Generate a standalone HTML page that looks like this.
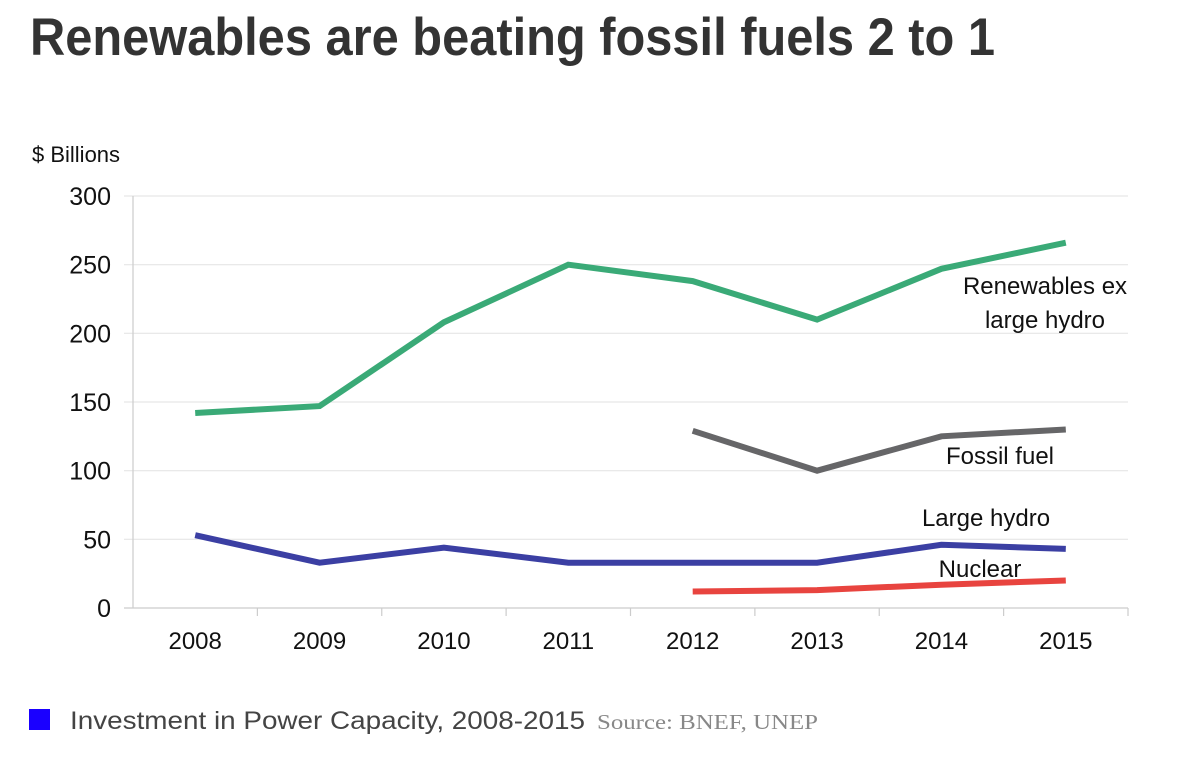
<!DOCTYPE html>
<html><head><meta charset="utf-8"><style>
body{margin:0;background:#fff;width:1200px;height:784px;overflow:hidden}
svg{display:block;font-family:"Liberation Sans",Arial,sans-serif}
</style></head><body>
<svg id="chart" width="1200" height="784">
<text x="30" y="55" font-size="53" font-weight="bold" fill="#333" textLength="965" lengthAdjust="spacingAndGlyphs">Renewables are beating fossil fuels 2 to 1</text>
<text x="32" y="162" font-size="22" fill="#111">$ Billions</text>
<g id="grid"></g><g id="series"></g><g id="labels"></g>
<rect x="29" y="709" width="21" height="21" fill="#1a00ff"/>
<text x="70" y="729" font-size="25" fill="#444" textLength="515" lengthAdjust="spacingAndGlyphs">Investment in Power Capacity, 2008-2015</text>
<text x="597" y="729" font-family="Liberation Serif,serif" font-size="21" fill="#888" textLength="221" lengthAdjust="spacingAndGlyphs">Source: BNEF, UNEP</text>
</svg>
<script>
const years=["2008","2009","2010","2011","2012","2013","2014","2015"];
const yTicks=[0,50,100,150,200,250,300];
const renewables=[142,147,208,250,238,210,247,266];
const fossil=[null,null,null,null,129,100,125,130];
const hydro=[53,33,44,33,33,33,46,43];
const nuclear=[null,null,null,null,12,13,17,20];
const NS="http://www.w3.org/2000/svg";
const L=133,R=1128,T=196,B=608;
const cw=(R-L)/years.length;
const xs=i=>L+cw*(i+0.5);
const ys=v=>B-(v/300)*(B-T);
function mk(tag,attrs,parent,txt){const e=document.createElementNS(NS,tag);for(const k in attrs)e.setAttribute(k,attrs[k]);if(txt!=null)e.textContent=txt;document.getElementById(parent).appendChild(e);return e;}
yTicks.forEach(v=>{
 const g=mk('line',{x1:124,x2:R,y1:ys(v),y2:ys(v),stroke:v===0?'#ccc':'#e6e6e6','stroke-width':1.2},'grid');
 
 
 const t=mk('text',{x:111,y:ys(v)+9,'font-size':25,'text-anchor':'end',fill:'#111'},'labels',String(v));
 
 
});
const ax=mk('line',{x1:L,x2:L,y1:T,y2:B,stroke:'#ccc','stroke-width':1.2},'grid');


years.forEach((y,i)=>{
 const tk=mk('line',{x1:L+cw*(i+1),x2:L+cw*(i+1),y1:B,y2:B+8,stroke:'#ccc','stroke-width':1.2},'grid');
 
 
 const t=mk('text',{x:xs(i),y:649,'font-size':24,'text-anchor':'middle',fill:'#111'},'labels',y);
 
 
});
function line(data,color,name){
 const pts=[];data.forEach((v,i)=>{if(v!=null)pts.push(xs(i).toFixed(1)+','+ys(v).toFixed(1));});
 const p=mk('polyline',{points:pts.join(' '),fill:'none',stroke:color,'stroke-width':6,'stroke-linejoin':'miter'},'series');
 
 
}
line(renewables,'#3aaa77','renewables-line');
line(fossil,'#666668','fossil-fuel-line');
line(hydro,'#3b3fa3','large-hydro-line');
line(nuclear,'#e8443f','nuclear-line');
[["Renewables ex",1045,294,'label-renewables-1'],["large hydro",1045,328,'label-renewables-2'],["Fossil fuel",1000,464,'label-fossil-fuel'],["Large hydro",986,526,'label-large-hydro'],["Nuclear",980,577,'label-nuclear']].forEach(a=>{
 const t=mk('text',{x:a[1],y:a[2],'font-size':24,'text-anchor':'middle',fill:'#111'},'labels',a[0]);
 
 
});
</script>
</body></html>
